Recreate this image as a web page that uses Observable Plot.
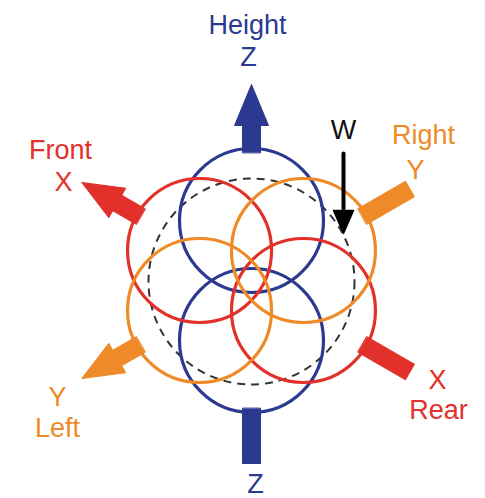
<!DOCTYPE html>
<html>
<head>
<meta charset="utf-8">
<script src="https://cdn.jsdelivr.net/npm/d3@7"></script>
<script src="https://cdn.jsdelivr.net/npm/@observablehq/plot@0.6"></script>
<style>
  html, body { margin: 0; padding: 0; background: #fff; }
  #chart svg { display: block; }
</style>
</head>
<body>
<div id="chart"></div>
<script>
// Axis directions (degrees, counter-clockwise from east) and their colours
const axisNames   = ["Z", "Z", "X", "X", "Y", "Y"];
const axisAngles  = [90, 270, 150, 330, 30, 210];
const axisHeads   = [true, false, true, false, false, true];
const axisColors  = { Z: "#2b3990", X: "#e2302a", Y: "#ee8b28" };

// Labels
const labelTexts = ["Height", "Z", "Front", "X", "Right", "Y", "Y", "Left", "X", "Rear", "Z", "W"];
const labelAxis  = ["Z", "Z", "X", "X", "Y", "Y", "Y", "Y", "X", "X", "Z", "W"];
const labelX     = [-4, -3, -191, -188, 172, 164, -194, -194, 186, 187, 4, 92];
const labelY     = [255, 223, 130, 98, 145, 110, -117, -148, -100, -130, -204, 150];

// geometry
const ringOffset = 60, ringR = 72, dashR = 103;
const shaftStart = 128, headBase = 155, tip = 196, tailEnd = 183, shaftHW = 9, headHW = 17;

const rad = a => a * Math.PI / 180;
const circles = axisNames.map((n, i) => ({
  axis: n,
  x: ringOffset * Math.cos(rad(axisAngles[i])),
  y: ringOffset * Math.sin(rad(axisAngles[i]))
}));

const arrowPts = [];
axisNames.forEach((n, i) => {
  const a = rad(axisAngles[i]);
  const ux = Math.cos(a), uy = Math.sin(a), vx = -uy, vy = ux;
  const P = (s, w) => ({id: i, color: axisColors[n], x: s * ux + w * vx, y: s * uy + w * vy});
  if (axisHeads[i]) {
    arrowPts.push(P(shaftStart, shaftHW), P(headBase, shaftHW), P(headBase, headHW), P(tip, 0),
                  P(headBase, -headHW), P(headBase, -shaftHW), P(shaftStart, -shaftHW));
  } else {
    arrowPts.push(P(shaftStart, shaftHW), P(tailEnd, shaftHW), P(tailEnd, -shaftHW), P(shaftStart, -shaftHW));
  }
});

// W arrow (downward)
const wX = 92, wTop = 127, wHeadBase = 70, wTip = 47;
const wShaft = [{x: wX, y: wTop}, {x: wX, y: wHeadBase + 2}];
const wHead = [{x: wX - 10, y: wHeadBase}, {x: wX + 10, y: wHeadBase}, {x: wX, y: wTip}];

const labels = labelTexts.map((t, i) => ({
  text: t, x: labelX[i], y: labelY[i],
  color: labelAxis[i] === "W" ? "#111" : axisColors[labelAxis[i]]
}));

const chart = Plot.plot({
  width: 485, height: 498, margin: 0,
  x: {domain: [-251, 234], axis: null},
  y: {domain: [-218, 280], axis: null},
  r: {type: "identity"},
  color: {type: "identity"},
  marks: [
    Plot.line(arrowPts, {x: "x", y: "y", z: "id", fill: "color", stroke: "color", strokeWidth: 1, curve: "linear-closed"}),
    Plot.dot([{x: 0, y: -1}], {x: "x", y: "y", r: dashR, stroke: "#333", strokeWidth: 2, strokeDasharray: "8,6", fill: "none"}),
    Plot.dot(circles, {x: "x", y: "y", r: ringR, stroke: d => axisColors[d.axis], strokeWidth: 3.2, fill: "none"}),
    Plot.line(wShaft, {x: "x", y: "y", stroke: "#000", strokeWidth: 4}),
    Plot.line(wHead, {x: "x", y: "y", fill: "#000", stroke: "#000", curve: "linear-closed"}),
    Plot.text(labels, {x: "x", y: "y", text: "text", fill: "color", fontSize: 27, fontFamily: "Liberation Sans, Arial, sans-serif"})
  ]
});
document.getElementById("chart").appendChild(chart);
</script>
</body>
</html>
